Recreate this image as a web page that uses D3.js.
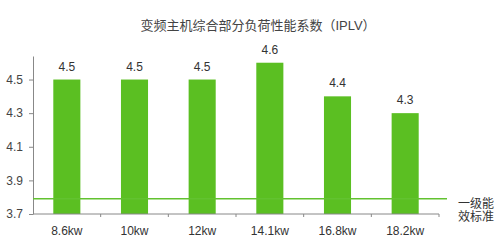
<!DOCTYPE html>
<html>
<head>
<meta charset="utf-8">
<script src="https://cdn.jsdelivr.net/npm/d3@7"></script>
<style>
  body { margin: 0; background: #fff; }
  text { font-family: "Liberation Sans", Arial, "Noto Sans CJK SC", sans-serif; }
</style>
</head>
<body>
<div id="chart"></div>
<script>
// chart data
const categories = ['8.6kw', '10kw', '12kw', '14.1kw', '16.8kw', '18.2kw'];
const values = [4.5, 4.5, 4.5, 4.6, 4.4, 4.3];
const yTicks = [3.7, 3.9, 4.1, 4.3, 4.5];
const standardValue = 3.79;
const standardLabel = ['一级能', '效标准'];
const title = '变频主机综合部分负荷性能系数（IPLV）';

const width = 500, height = 249;
const margin = { top: 56, right: 61, bottom: 35, left: 33 };

const svg = d3.select('#chart').append('svg')
    .attr('width', width)
    .attr('height', height);

const x = d3.scaleBand()
    .domain(categories)
    .range([margin.left, width - margin.right])
    .paddingInner(0.6)
    .paddingOuter(0.3);

const y = d3.scaleLinear()
    .domain([3.7, 4.64])
    .range([height - margin.bottom, margin.top]);

// title
svg.append('text')
    .attr('x', 258)
    .attr('y', 30)
    .attr('text-anchor', 'middle')
    .attr('font-size', 13)
    .attr('fill', '#444')
    .text(title);

// bars
svg.selectAll('rect.bar')
    .data(values)
    .join('rect')
    .attr('class', 'bar')
    .attr('x', (d, i) => x(categories[i]))
    .attr('y', d => y(d))
    .attr('width', x.bandwidth())
    .attr('height', d => y(3.7) - y(d))
    .attr('fill', '#5bbf22');

// value labels
svg.selectAll('text.val')
    .data(values)
    .join('text')
    .attr('class', 'val')
    .attr('x', (d, i) => x(categories[i]) + x.bandwidth() / 2)
    .attr('y', d => y(d) - 9)
    .attr('text-anchor', 'middle')
    .attr('font-size', 12)
    .attr('fill', '#333')
    .text(d => d.toFixed(1));

// y axis
const yAxis = svg.append('g')
    .attr('transform', `translate(${margin.left},0)`)
    .call(d3.axisLeft(y).tickValues(yTicks).tickFormat(d3.format('.1f')).tickSize(4).tickSizeOuter(0));
yAxis.select('.domain').attr('stroke', '#888');
yAxis.selectAll('.tick line').attr('stroke', '#888');
yAxis.selectAll('.tick text')
    .attr('font-size', 12)
    .attr('fill', '#444')
    .attr('x', -10);

// x axis with ticks at band edges
const xAxisG = svg.append('g')
    .attr('transform', `translate(0,${y(3.7)})`);
xAxisG.append('line')
    .attr('x1', margin.left).attr('x2', width - margin.right)
    .attr('stroke', '#888');
const edges = d3.range(categories.length + 1).map(i => margin.left + i * x.step());
xAxisG.selectAll('line.tk')
    .data(edges.slice(1))
    .join('line')
    .attr('class', 'tk')
    .attr('x1', d => d).attr('x2', d => d)
    .attr('y1', 0).attr('y2', 3)
    .attr('stroke', '#888');
xAxisG.selectAll('text')
    .data(categories)
    .join('text')
    .attr('x', d => x(d) + x.bandwidth() / 2)
    .attr('y', 21)
    .attr('text-anchor', 'middle')
    .attr('font-size', 12)
    .attr('fill', '#333')
    .text(d => d);

// energy standard line
svg.append('line')
    .attr('x1', margin.left)
    .attr('x2', 447)
    .attr('y1', y(standardValue))
    .attr('y2', y(standardValue))
    .attr('stroke', '#62c230')
    .attr('stroke-width', 1.5);

svg.selectAll('text.std')
    .data(standardLabel)
    .join('text')
    .attr('class', 'std')
    .attr('x', 458)
    .attr('y', (d, i) => y(standardValue) + 9 + i * 13)
    .attr('font-size', 12)
    .attr('fill', '#333')
    .text(d => d);
</script>
</body>
</html>
